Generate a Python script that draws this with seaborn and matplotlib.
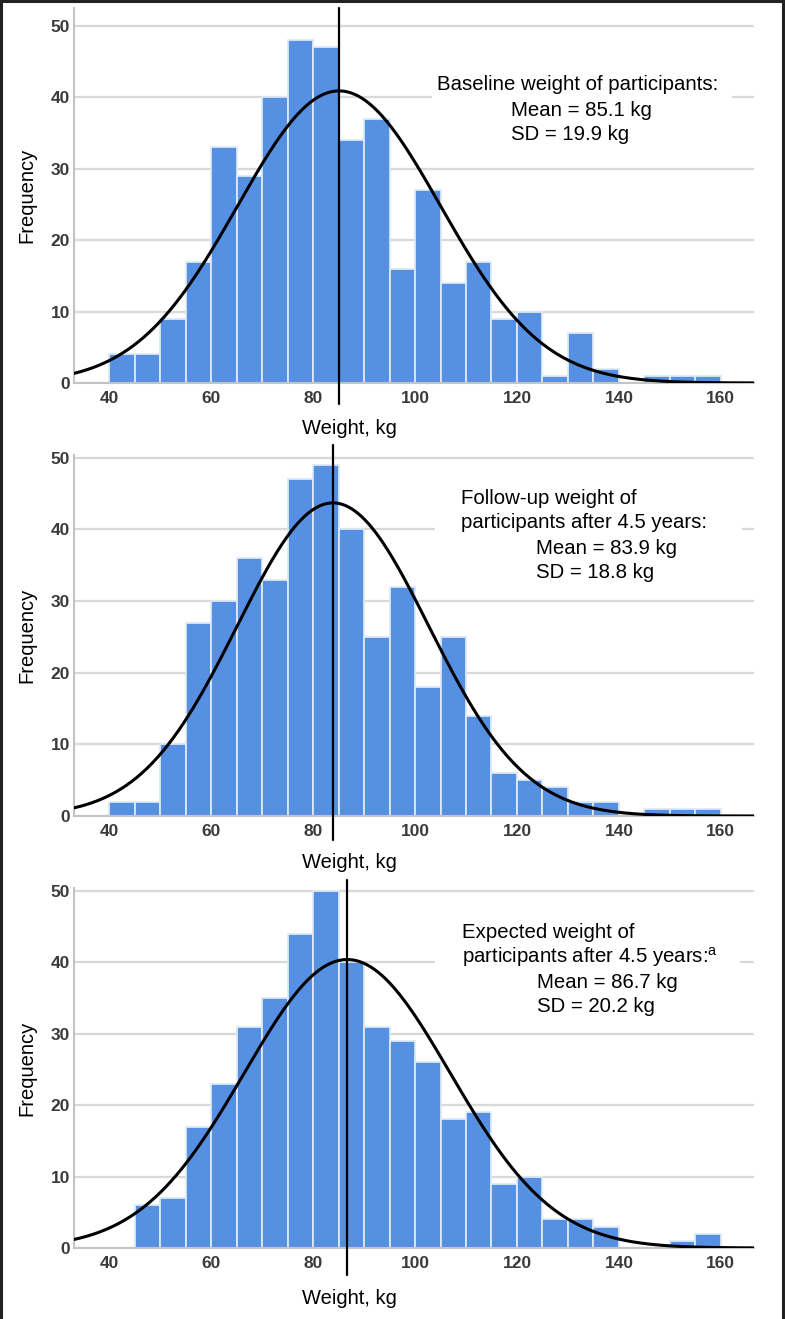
import numpy as np
import pandas as pd
import seaborn as sns
import matplotlib.pyplot as plt
from matplotlib.patches import Rectangle
from matplotlib.lines import Line2D

# ---------------- data ----------------
bin_edges = list(range(40, 165, 5))          # 40, 45, ..., 160
baseline_counts = [4, 4, 9, 17, 33, 29, 40, 48, 47, 34, 37, 16, 27, 14, 17, 9, 10, 1, 7, 2, 0, 1, 1, 1]
followup_counts = [2, 2, 10, 27, 30, 36, 33, 47, 49, 40, 25, 32, 18, 25, 14, 6, 5, 4, 2, 2, 0, 1, 1, 1]
expected_counts = [0, 6, 7, 17, 23, 31, 35, 44, 50, 40, 31, 29, 26, 18, 19, 9, 10, 4, 4, 3, 0, 0, 1, 2]
means = [85.1, 83.9, 86.7]
sds = [19.9, 18.8, 20.2]
x_ticks = [40, 60, 80, 100, 120, 140, 160]
y_ticks = [0, 10, 20, 30, 40, 50]
annotations = [
    ["Baseline weight of participants:", "Mean = 85.1 kg", "SD = 19.9 kg"],
    ["Follow-up weight of", "participants after 4.5 years:", "Mean = 83.9 kg", "SD = 18.8 kg"],
    ["Expected weight of", "participants after 4.5 years:$^{\\mathrm{a}}$", "Mean = 86.7 kg", "SD = 20.2 kg"],
]
x_label = "Weight, kg"
y_label = "Frequency"

# ---------------- style ----------------
sns.set_style("white")
plt.rcParams['font.family'] = ['Liberation Sans', 'DejaVu Sans']
plt.rcParams['mathtext.fontset'] = 'custom'
plt.rcParams['mathtext.rm'] = 'Liberation Sans'

W, H = 785, 1319
fig = plt.figure(figsize=(W / 100, H / 100), dpi=100)

BAR = "#5690e2"
GRID = "#d9d9d9"
SPINE = "#c4c4c4"
TICKC = "#3a3a3a"

AX_L, AX_R = 74, 754
XLIM = (33.1, 166.5)

layout = [
    dict(top=8, bottom=383, ytop=52.5, vline=(8, 404), xlab_y=428,
         text_pos=[(437, 84), (511, 111), (511, 134)], mask=(432, 70, 732, 150)),
    dict(top=455, bottom=816, ytop=50.4, vline=(445, 840), xlab_y=863,
         text_pos=[(461, 499), (461, 523), (536, 548), (536, 573)], mask=(435, 485, 742, 590)),
    dict(top=888, bottom=1248, ytop=50.4, vline=(880, 1275), xlab_y=1298,
         text_pos=[(462, 932), (462, 957), (537, 982), (537, 1007)], mask=(435, 918, 740, 1020)),
]
all_counts = [baseline_counts, followup_counts, expected_counts]

edges = np.array(bin_edges, dtype=float)
centers = (edges[:-1] + edges[1:]) / 2
binw = float(edges[1] - edges[0])

for i, (counts, lay) in enumerate(zip(all_counts, layout)):
    h = lay['bottom'] - lay['top']
    ax = fig.add_axes([AX_L / W, 1 - lay['bottom'] / H, (AX_R - AX_L) / W, h / H])
    df = pd.DataFrame({"weight": centers, "count": counts})
    sns.histplot(data=df, x="weight", weights="count", binwidth=binw,
                 binrange=(bin_edges[0], bin_edges[-1]), ax=ax,
                 color=BAR, alpha=1, edgecolor="#dde9f8", linewidth=1.3, zorder=2)

    # fitted normal curve
    xs = np.linspace(XLIM[0], XLIM[1], 400)
    n = sum(counts)
    ys = n * binw * np.exp(-0.5 * ((xs - means[i]) / sds[i]) ** 2) / (sds[i] * np.sqrt(2 * np.pi))
    sns.lineplot(x=xs, y=ys, ax=ax, color="black", linewidth=2.2, zorder=4)

    ax.set_xlim(*XLIM)
    ax.set_ylim(0, lay['ytop'])
    ax.set_xticks(x_ticks)
    ax.set_yticks(y_ticks)
    ax.tick_params(axis='both', length=0, labelsize=12.5, labelcolor=TICKC)
    ax.tick_params(axis='x', pad=5.5)
    ax.tick_params(axis='y', pad=3)
    for lbl in ax.get_xticklabels() + ax.get_yticklabels():
        lbl.set_fontweight('bold')
    ax.yaxis.grid(True, color=GRID, linewidth=1.6, zorder=0)
    ax.set_axisbelow(True)
    for s in ['top', 'right']:
        ax.spines[s].set_visible(False)
    for s in ['left', 'bottom']:
        ax.spines[s].set_color(SPINE)
        ax.spines[s].set_linewidth(1.5)

    # mean line extending beyond the axes
    v0, v1 = lay['vline']
    ymin = (lay['bottom'] - v1) / h
    ymax = (lay['bottom'] - v0) / h
    ax.axvline(means[i], ymin=ymin, ymax=ymax, color="black", linewidth=1.6,
               clip_on=False, zorder=5)

    # labels
    ax.set_ylabel(y_label, fontsize=14.5, color="black")
    ax.yaxis.set_label_coords((27 - AX_L) / (AX_R - AX_L), 0.5)
    ax.yaxis.label.set_va('center')
    ax.set_xlabel(x_label, fontsize=14.5, color="black")
    ax.xaxis.label.set_va('center')
    ax.xaxis.set_label_coords((349 - AX_L) / (AX_R - AX_L), (lay['bottom'] - lay['xlab_y']) / h)

    # white box behind annotation
    mx0, my0, mx1, my1 = lay['mask']
    ax.add_patch(Rectangle(((mx0 - AX_L) / (AX_R - AX_L), (lay['bottom'] - my1) / h),
                           (mx1 - mx0) / (AX_R - AX_L), (my1 - my0) / h,
                           transform=ax.transAxes, facecolor="white", edgecolor="none",
                           zorder=1.5))
    for txt, (px, py) in zip(annotations[i], lay['text_pos']):
        fig.text(px / W, 1 - py / H, txt, fontsize=14.7, color="black",
                 ha='left', va='center')

# outer frame (left, top, right)
for (xd, yd) in [([0.0015, 0.0015], [0, 1]), ([0, 1], [0.999, 0.999]), ([0.9975, 0.9975], [0, 1])]:
    fig.add_artist(Line2D(xd, yd, transform=fig.transFigure, color="#222222", linewidth=2.2))

fig.savefig("out.png", dpi=100)
